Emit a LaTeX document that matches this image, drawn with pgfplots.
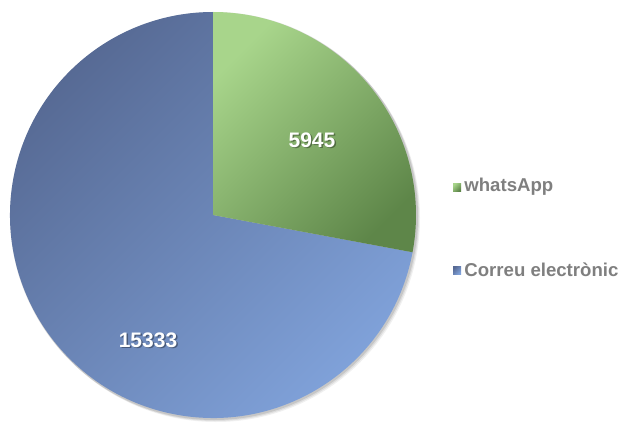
\documentclass[border=0pt]{standalone}
\usepackage{pgfplots}
\pgfplotsset{compat=1.18}
\usepackage{fontspec}
\setmainfont{Liberation Sans}
\def\vA{5945}
\def\vB{15333}
\pgfmathsetmacro\frA{1/(1+\vB/\vA)}
\pgfmathsetmacro\angA{90-360*\frA}
\definecolor{gA}{HTML}{A8D58B}
\definecolor{gB}{HTML}{5E8649}
\definecolor{bA}{HTML}{566993}
\definecolor{bB}{HTML}{80A2DA}
\definecolor{legtxt}{HTML}{7F7F7F}
\begin{document}
\begin{tikzpicture}
\begin{axis}[scale only axis, width=310pt, height=212pt,
  xmin=0, xmax=620, ymin=0, ymax=424, hide axis, clip=false]
% shadow
\fill[black, opacity=0.06] (axis cs:216,206) circle[radius=102pt];
\fill[black, opacity=0.08] (axis cs:215,207) circle[radius=102pt];
\fill[black, opacity=0.10] (axis cs:214,208) circle[radius=102pt];
% blue slice
\shade[left color=bA, right color=bB, shading angle=45]
  (axis cs:213,209) -- ++(\angA:101.5pt) arc[start angle=\angA, end angle=-270, radius=101.5pt] -- cycle;
% green slice
\shade[left color=gA, right color=gB, shading angle=45]
  (axis cs:213,209) -- ++(90:101.5pt) arc[start angle=90, end angle=\angA, radius=101.5pt] -- cycle;
% labels
\node[font=\bfseries\fontsize{10.5}{12}\selectfont, text=black, opacity=0.35] at (axis cs:313.5,282.5) {5945};
\node[font=\bfseries\fontsize{10.5}{12}\selectfont, text=white] at (axis cs:312,284) {5945};
\node[font=\bfseries\fontsize{10.5}{12}\selectfont, text=black, opacity=0.35] at (axis cs:149.5,82.5) {15333};
\node[font=\bfseries\fontsize{10.5}{12}\selectfont, text=white] at (axis cs:148,84) {15333};
% legend
\shade[left color=gA, right color=gB, shading angle=45] (axis cs:453,241) rectangle (axis cs:461,233);
\node[anchor=west, font=\bfseries\fontsize{9.3}{11}\selectfont, text=legtxt, inner sep=0pt] at (axis cs:464,237) {whatsApp};
\shade[left color=bA, right color=bB, shading angle=45] (axis cs:453,158) rectangle (axis cs:461,150);
\node[anchor=west, font=\bfseries\fontsize{9.3}{11}\selectfont, text=legtxt, inner sep=0pt] at (axis cs:464,154) {Correu electrònic};
\end{axis}
\pgfresetboundingbox
\path[use as bounding box] (current axis.south west) rectangle (current axis.north east);
\end{tikzpicture}
\end{document}
